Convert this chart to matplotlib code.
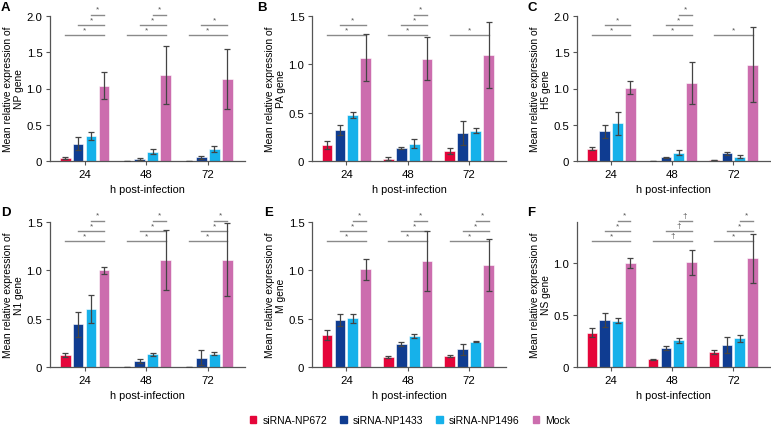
import numpy as np
import matplotlib.pyplot as plt
from matplotlib.patches import Patch
from matplotlib.ticker import FuncFormatter

plt.rcParams['font.family'] = ['Liberation Sans', 'DejaVu Sans']

hours = ['24', '48', '72']
series = ['siRNA-NP672', 'siRNA-NP1433', 'siRNA-NP1496', 'Mock']
colors = ['#e5053a', '#0f3c91', '#16b1ea', '#cc6dae']

# mean values per gene: rows = series, cols = 24/48/72 h
np_mean = [[0.04, 0.005, 0.005], [0.24, 0.03, 0.05], [0.34, 0.13, 0.17], [1.04, 1.19, 1.13]]
np_err = [[0.01, 0.0, 0.0], [0.09, 0.01, 0.02], [0.055, 0.035, 0.04], [0.19, 0.40, 0.41]]
pa_mean = [[0.162, 0.025, 0.10], [0.324, 0.138, 0.29], [0.472, 0.18, 0.314], [1.07, 1.06, 1.10]]
pa_err = [[0.04, 0.015, 0.03], [0.05, 0.01, 0.12], [0.03, 0.045, 0.025], [0.24, 0.22, 0.34]]
h5_mean = [[0.17, 0.005, 0.01], [0.41, 0.05, 0.105], [0.52, 0.115, 0.06], [1.01, 1.075, 1.33]]
h5_err = [[0.025, 0.0, 0.0], [0.09, 0.005, 0.02], [0.16, 0.035, 0.02], [0.09, 0.29, 0.52]]
n1_mean = [[0.12, 0.005, 0.005], [0.44, 0.062, 0.097], [0.60, 0.13, 0.138], [1.00, 1.11, 1.11]]
n1_err = [[0.02, 0.0, 0.0], [0.13, 0.02, 0.08], [0.14, 0.02, 0.015], [0.035, 0.31, 0.38]]
m_mean = [[0.33, 0.107, 0.114], [0.486, 0.234, 0.183], [0.503, 0.32, 0.262], [1.01, 1.097, 1.055]]
m_err = [[0.05, 0.01, 0.015], [0.06, 0.02, 0.055], [0.05, 0.02, 0.003], [0.11, 0.31, 0.27]]
ns_mean = [[0.332, 0.077, 0.148], [0.455, 0.187, 0.213], [0.448, 0.258, 0.277], [1.003, 1.01, 1.048]]
ns_err = [[0.045, 0.005, 0.02], [0.07, 0.02, 0.08], [0.025, 0.025, 0.035], [0.05, 0.12, 0.24]]

# significance: per time point, which siRNA bars are compared with Mock
np_sig = [[0, 1, 2], [0, 1, 2], [0, 1]]
pa_sig = [[0, 1], [0, 1, 2], [0]]
h5_sig = [[0, 1], [0, 1, 2], [0]]
n1_sig = [[0, 1, 2], [0, 1, 2], [0, 1, 2]]
m_sig = [[0, 1, 2], [0, 1, 2], [0, 1, 2]]
ns_sig = [[0, 1, 2], [0, 1, 2], [0, 1, 2]]
ns_marks = ['*', '\u2020', '*']

panels = [
    ('A', 'NP', np_mean, np_err, np_sig, ['*'] * 3, 2.0, [0, 0.5, 1.0, 1.5, 2.0]),
    ('B', 'PA', pa_mean, pa_err, pa_sig, ['*'] * 3, 1.5, [0, 0.5, 1.0, 1.5]),
    ('C', 'H5', h5_mean, h5_err, h5_sig, ['*'] * 3, 2.0, [0, 0.5, 1.0, 1.5, 2.0]),
    ('D', 'N1', n1_mean, n1_err, n1_sig, ['*'] * 3, 1.5, [0, 0.5, 1.0, 1.5]),
    ('E', 'M', m_mean, m_err, m_sig, ['*'] * 3, 1.5, [0, 0.5, 1.0, 1.5]),
    ('F', 'NS', ns_mean, ns_err, ns_sig, ns_marks, 1.4, [0, 0.5, 1.0]),
]

W, H = 771, 427
# axes boxes in pixels: left, top, right, bottom ; panel letter position
boxes = [(50, 17, 245, 162), (312, 17, 506, 162), (577, 17, 770, 162),
         (50, 223, 245, 368), (312, 223, 506, 368), (577, 223, 770, 368)]
letter_xy = [(1, 8), (257, 8), (527, 8), (1, 213), (264, 213), (527, 213)]

fig = plt.figure(figsize=(W / 100, H / 100), dpi=100)

x = np.arange(len(hours))
pitch = 0.21
width = 0.175
fmt = FuncFormatter(lambda v, p: '0' if v == 0 else '%.1f' % v)

for (letter, gene, mean, err, sig, marks, ymax, yt), (l, t, r, b), (lx, ly) in zip(panels, boxes, letter_xy):
    ax = fig.add_axes([l / W, 1 - b / H, (r - l) / W, (b - t) / H])
    for i in range(4):
        ax.bar(x + (i - 1.5) * pitch, mean[i], width, color=colors[i],
               edgecolor='white', linewidth=0.4, zorder=2)
        ax.errorbar(x + (i - 1.5) * pitch, mean[i], yerr=err[i], fmt='none',
                    ecolor='#444444', elinewidth=0.9, capsize=2.5, capthick=0.9, zorder=3)
    levels = [0.87, 0.94, 1.01]
    for g in range(3):
        for k in sig[g]:
            y = levels[k] * ymax
            x0 = x[g] + (k - 1.5) * pitch
            x1 = x[g] + 1.5 * pitch
            ax.plot([x0, x1], [y, y], color='#8a8a8a', lw=1.0, clip_on=False, zorder=1)
            ax.text((x0 + x1) / 2, y + 0.012 * ymax, marks[g], ha='center', va='bottom',
                    fontsize=6, color='#555555', clip_on=False)
    ax.set_xlim(-0.56, 2.6)
    ax.set_ylim(0, ymax)
    ax.set_yticks(yt)
    ax.yaxis.set_major_formatter(fmt)
    ax.set_xticks(x)
    ax.set_xticklabels(hours)
    ax.tick_params(labelsize=8.2, color='#555555', length=3, width=0.8, pad=2.5)
    for s in ['top', 'right']:
        ax.spines[s].set_visible(False)
    for s in ['left', 'bottom']:
        ax.spines[s].set_color('#555555')
        ax.spines[s].set_linewidth(0.9)
    ax.set_ylabel('Mean relative expression of\n%s gene' % gene, fontsize=7.4,
                  linespacing=1.15)
    ax.yaxis.set_label_coords(-26 / (r - l), 0.5)
    ax.set_xlabel('h post-infection', fontsize=7.9, labelpad=4)
    fig.text(lx / W, 1 - ly / H, letter, fontsize=9.5, fontweight='bold',
             ha='left', va='center')

handles = [Patch(color=c) for c in colors]
fig.legend(handles, series, loc='center', bbox_to_anchor=(410 / W, 1 - 421 / H), ncol=4,
           frameon=False, fontsize=7.5, handlelength=0.6, handleheight=0.6,
           columnspacing=1.25, handletextpad=0.6)

fig.savefig('out.png', dpi=100)
